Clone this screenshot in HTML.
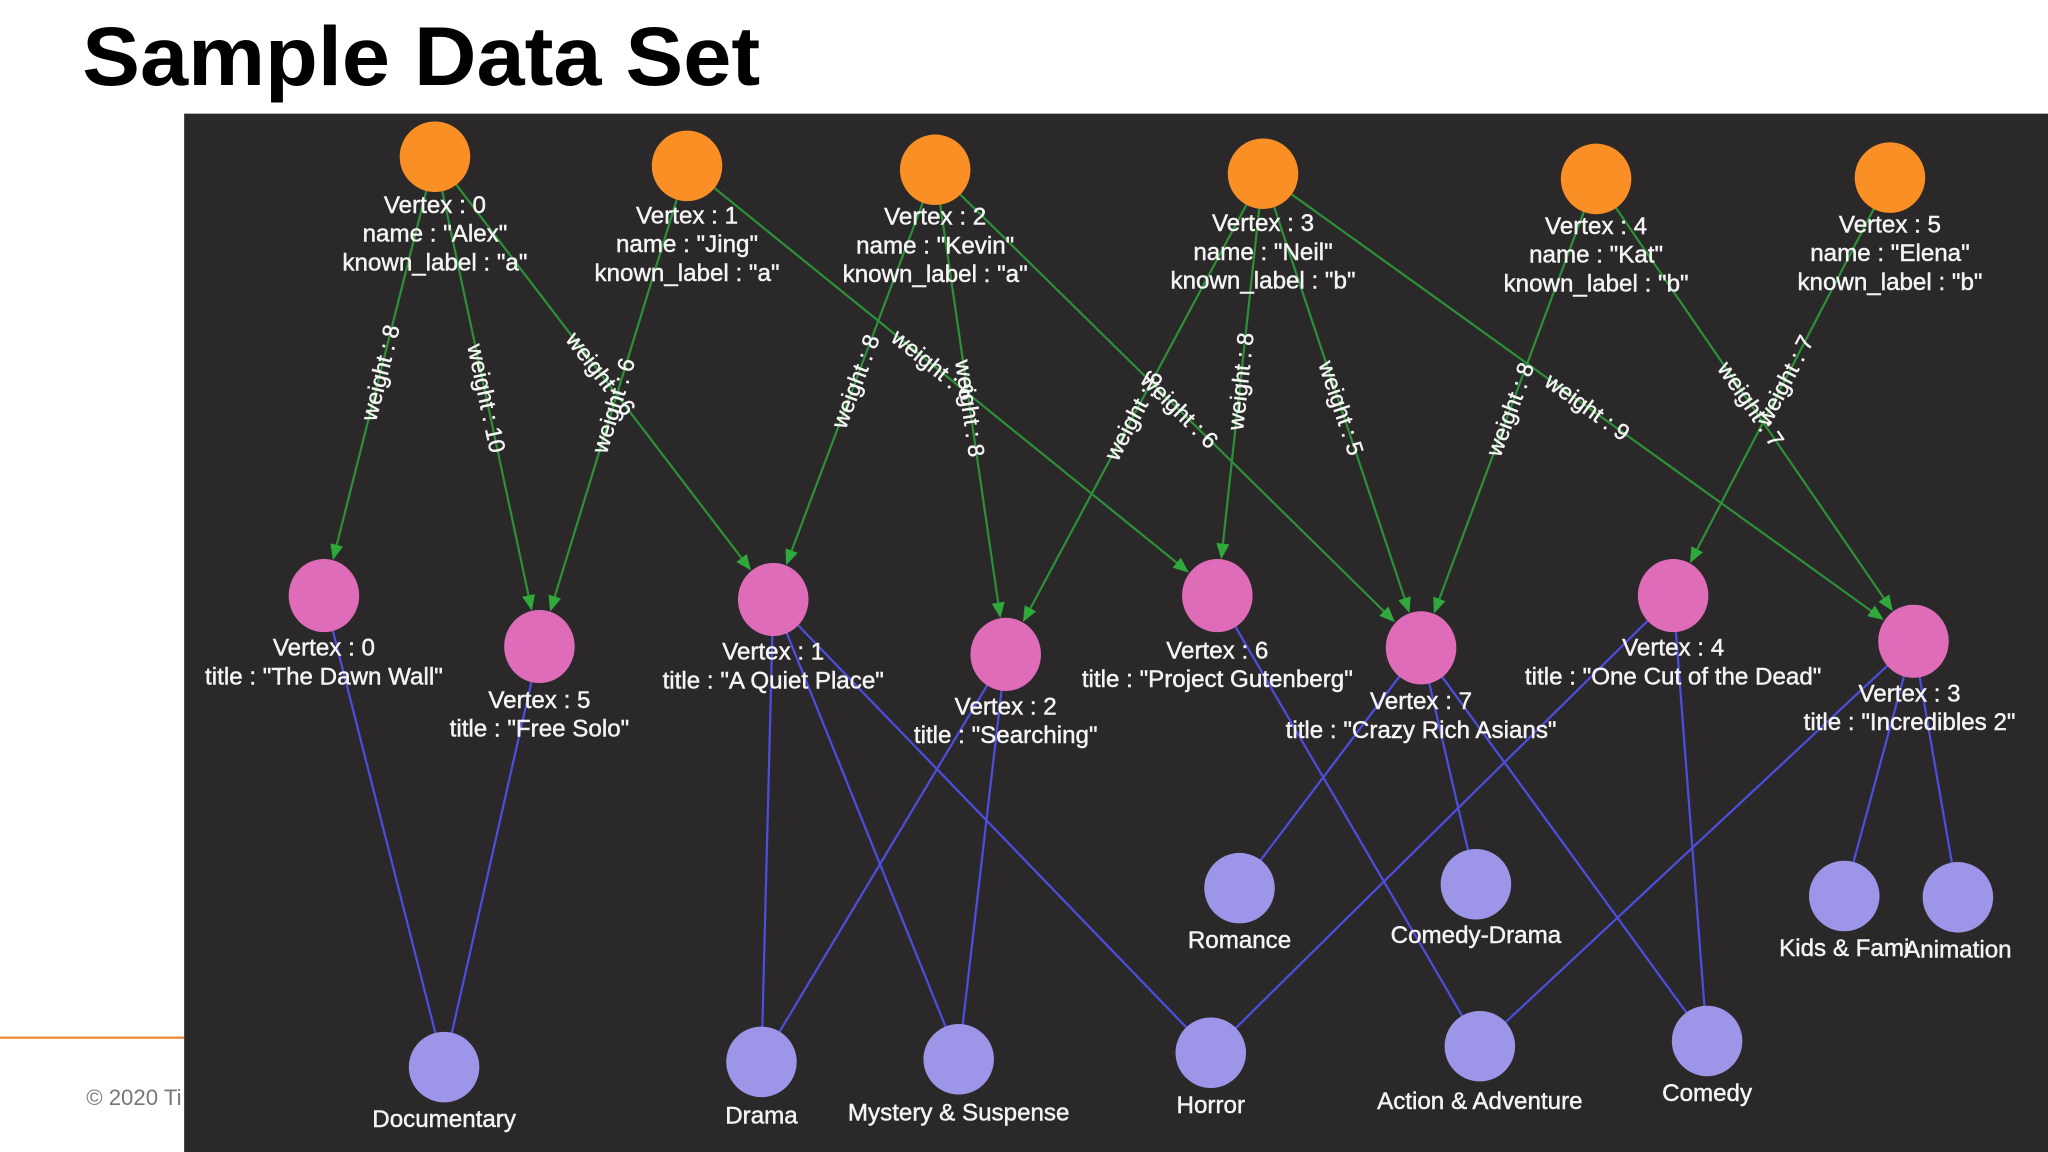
<!DOCTYPE html>
<html><head><meta charset="utf-8">
<style>
html,body{margin:0;padding:0;background:#fff;width:2048px;height:1152px;overflow:hidden}
svg{display:block}
</style></head>
<body>
<svg id="s" width="2048" height="1152" viewBox="0 0 1568 882" xmlns="http://www.w3.org/2000/svg">
<rect x="0" y="0" width="1568" height="882" fill="#ffffff"/>
<text x="63" y="65" font-family="Liberation Sans, sans-serif" font-weight="bold" font-size="64" textLength="519" lengthAdjust="spacingAndGlyphs" fill="#000">Sample Data Set</text>
<line x1="0" y1="794.5" x2="141" y2="794.5" stroke="#e8832a" stroke-width="1.6"/>
<text x="66" y="846" font-family="Liberation Sans, sans-serif" font-size="17" fill="#777">© 2020 Ti</text>
<rect x="141" y="87" width="1427" height="795" fill="#2a2829"/>
<g id="blue"></g><g id="green"></g><g id="nodes"></g><g id="labels"></g>
</svg>
<script>
var NS="http://www.w3.org/2000/svg";
function el(p,t,a,txt){var e=document.createElementNS(NS,t);for(var k in a)e.setAttribute(k,a[k]);if(txt!==undefined)e.textContent=txt;document.getElementById(p).appendChild(e);return e;}
var U=[[333,120],[526,127],[716,130],[967,133],[1222,137],[1447,136]];
var UL=[["Vertex : 0",'name : "Alex"','known_label : "a"',157],
["Vertex : 1",'name : "Jing"','known_label : "a"',165],
["Vertex : 2",'name : "Kevin"','known_label : "a"',166],
["Vertex : 3",'name : "Neil"','known_label : "b"',171],
["Vertex : 4",'name : "Kat"','known_label : "b"',173],
["Vertex : 5",'name : "Elena"','known_label : "b"',172]];
var M={0:[248,456],5:[413,495],1:[592,459],2:[770,501],6:[932,456],7:[1088,496],4:[1281,456],3:[1465,491]};
var ML={0:['title : "The Dawn Wall"',248,496],5:['title : "Free Solo"',413,536],1:['title : "A Quiet Place"',592,499],2:['title : "Searching"',770,541],6:['title : "Project Gutenberg"',932,498],7:['title : "Crazy Rich Asians"',1088,537],4:['title : "One Cut of the Dead"',1281,496],3:['title : "Incredibles 2"',1462,531]};
var G={doc:[340,817,"Documentary",857],dra:[583,813,"Drama",854],mys:[734,811,"Mystery & Suspense",852],hor:[927,806,"Horror",846],rom:[949,680,"Romance",720],cd:[1130,677,"Comedy-Drama",716],act:[1133,801,"Action & Adventure",843],com:[1307,797,"Comedy",837],kid:[1412,686,"Kids & Fami",726],ani:[1499,687,"Animation",727]};
var BE=[[0,"doc"],[5,"doc"],[1,"dra"],[1,"mys"],[1,"hor"],[2,"dra"],[2,"mys"],[7,"rom"],[7,"cd"],[7,"com"],[6,"act"],[4,"hor"],[4,"com"],[3,"act"],[3,"kid"],[3,"ani"]];
BE.forEach(function(b){var m=M[b[0]],g=G[b[1]];el("blue","line",{x1:m[0],y1:m[1],x2:g[0],y2:g[1],stroke:"#4d4ee0","stroke-width":1.7});});
var GE=[[0,0,8,290,285],[0,5,10,372,305],[0,1,6,455,290],[1,5,6,468,310],[1,6,6,712,282],[2,1,8,655,292],[2,2,8,740,313],[2,7,6,905,312],[3,2,6,868,318],[3,6,8,950,292],[3,7,5,1025,313],[4,7,8,1155,313],[3,3,9,1215,312],[4,3,7,1340,310],[5,4,7,1368,292]];
var TXT={"font-family":"Liberation Sans, sans-serif",fill:"#f4f4f4",stroke:"#f4f4f4","stroke-width":0.35,"text-anchor":"middle"};
function T(o){var r={};for(var k in TXT)r[k]=TXT[k];for(var k in o)r[k]=o[k];return r;}
GE.forEach(function(e){var u=U[e[0]],m=M[e[1]];var dx=m[0]-u[0],dy=m[1]-u[1],L=Math.sqrt(dx*dx+dy*dy);var ux=dx/L,uy=dy/L;
var ex=m[0]-ux*28,ey=m[1]-uy*28;
el("green","line",{x1:u[0],y1:u[1],x2:ex-ux*6,y2:ey-uy*6,stroke:"#2d8f38","stroke-width":1.7});
var px=-uy,py=ux,bx=ex-ux*12,by=ey-uy*12;
el("green","polygon",{points:ex+","+ey+" "+(bx+px*5)+","+(by+py*5)+" "+(bx-px*5)+","+(by-py*5),fill:"#2fa83c"});
var ang=Math.atan2(dy,dx)*180/Math.PI;if(ang>90)ang-=180;if(ang<-90)ang+=180;
var t=((e[3]-u[0])*ux+(e[4]-u[1])*uy);var lx=u[0]+ux*t,ly=u[1]+uy*t;
el("labels","text",T({x:lx,y:ly+6,transform:"rotate("+ang+" "+lx+" "+ly+")","font-size":17.5}),"weight : "+e[2]);});
U.forEach(function(u,i){el("nodes","ellipse",{cx:u[0],cy:u[1],rx:27,ry:27,fill:"#f98f25"});var l=UL[i];
for(var k=0;k<3;k++)el("labels","text",T({x:u[0],y:l[3]+k*22+6,"font-size":18.5}),l[k]);});
for(var k in M){var m=M[k],l=ML[k];el("nodes","ellipse",{cx:m[0],cy:m[1],rx:27,ry:28,fill:"#df6cb8"});
el("labels","text",T({x:l[1],y:l[2]+6,"font-size":18.5}),"Vertex : "+k);
el("labels","text",T({x:l[1],y:l[2]+28,"font-size":18.5}),l[0]);}
for(var k in G){var g=G[k];el("nodes","ellipse",{cx:g[0],cy:g[1],rx:27,ry:27,fill:"#9d95e8"});
el("labels","text",T({x:g[0],y:g[3]+6,"font-size":18.5}),g[2]);}
</script>
</body></html>
